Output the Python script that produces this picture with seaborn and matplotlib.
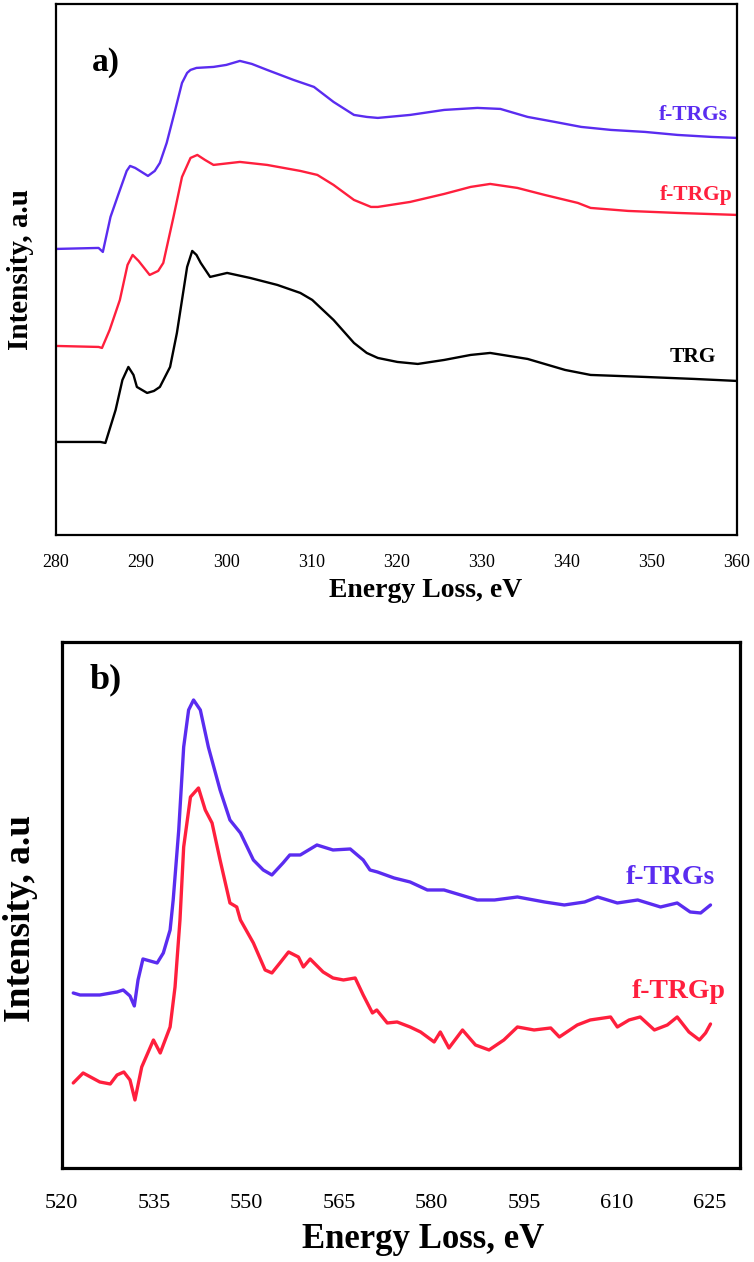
import matplotlib
matplotlib.use("Agg")
import matplotlib.pyplot as plt
import numpy as np
import pandas as pd
import seaborn as sns

# %% Data (energy loss in eV, intensity in arbitrary units)
# panel a) carbon K-edge
ev_a_s = [280, 285, 285.5, 286.4, 287.3, 287.8, 288.3, 288.7, 289.3, 290.8, 291.6, 292.2,
          293, 294, 294.8, 295.4, 295.8, 296.5, 298.5, 300, 301.6, 303, 304.8, 307.9,
          310.3, 312.6, 315, 316.5, 317.8, 321.6, 325.6, 329.5, 332.2, 335.4, 338.6,
          341.7, 345.2, 349.2, 353, 357, 360]
int_a_s = [286, 287, 283, 318, 340, 352, 364, 369, 367, 359, 364, 372,
           392, 425, 452, 462, 465, 467, 468, 470, 474, 471, 465, 455,
           448, 433, 420, 418, 417, 420, 425, 427, 426, 418, 413,
           408, 405, 403, 400, 398, 397]

ev_a_p = [280, 285, 285.4, 286.3, 287.5, 288.4, 289, 289.7, 291, 292, 292.6, 293.8,
          294.8, 295.8, 296.6, 297.5, 298.5, 301.6, 304.8, 308.7, 310.7, 312.6, 315,
          317, 317.8, 321.6, 325.6, 328.7, 331, 334.2, 337.4, 341.3, 342.8, 347.2,
          353, 360]
int_a_p = [189, 188, 187, 205, 235, 270, 280, 274, 260, 264, 272, 318,
           358, 377, 380, 375, 370, 373, 370, 364, 360, 350, 335,
           328, 328, 333, 341, 348, 351, 347, 340, 332, 327, 324,
           322, 320]

ev_a_t = [280, 285.2, 285.8, 287, 287.8, 288.5, 289.1, 289.5, 290.7, 291.5, 292.2, 293.4,
          294.2, 294.8, 295.4, 296, 296.5, 297, 298.1, 300.1, 302.8, 306, 308.7, 310.1,
          312.6, 315, 316.5, 317.8, 320.1, 322.5, 325.6, 328.7, 331, 335.4, 339.8,
          342.8, 349.2, 355, 360]
int_a_t = [93, 93, 92, 125, 155, 168, 160, 148, 142, 144, 148, 168,
           202, 235, 268, 284, 280, 272, 258, 262, 257, 250, 242, 235,
           215, 192, 182, 177, 173, 171, 175, 180, 182, 176, 165,
           160, 158, 156, 154]

# panel b) oxygen K-edge
ev_b_s = [521.9, 523, 526.2, 529, 530, 531.1, 531.8, 532.4, 533.2, 535.5, 536.5, 537.6,
          538.1, 539, 539.8, 540.6, 541.4, 542.5, 543.8, 545.7, 547.3, 549, 551.1,
          552.7, 554.1, 555.9, 557, 558.7, 561.4, 564, 566.8, 568.9, 570, 571.2,
          573.9, 576.5, 579.3, 582, 584.7, 587.4, 590.2, 593.9, 598.3, 601.5, 604.8,
          606.9, 610.1, 613.4, 617.1, 619.8, 621.9, 623.6, 625.2]
int_b_s = [175, 173, 173, 176, 178, 172, 162, 188, 209, 205, 215, 238,
           268, 338, 421, 458, 468, 458, 421, 378, 348, 335, 308,
           298, 293, 305, 313, 313, 323, 318, 319, 308, 298, 296,
           290, 286, 278, 278, 273, 268, 268, 271, 266, 263, 266,
           271, 265, 268, 261, 265, 256, 255, 263]

ev_b_p = [521.9, 523.5, 526.2, 527.9, 529, 530.1, 531.1, 531.9, 533, 534.9, 536, 537.6,
          538.4, 539.2, 539.8, 540.9, 542.2, 543.3, 544.4, 545.7, 547.3, 548.4, 549,
          551.1, 553, 554.1, 555.4, 556.8, 558.4, 559.2, 560.3, 562.4, 564, 565.7,
          567.6, 568.9, 570.4, 571.1, 572.8, 574.4, 576.5, 578.2, 580.4, 581.4, 582.8,
          585, 587.1, 589.3, 591.7, 593.9, 596.6, 599.3, 600.7, 603.6, 605.7, 609,
          610.1, 612, 613.8, 616.1, 618.2, 619.8, 621.7, 623.4, 624.4, 625.2]
int_b_p = [85, 95, 86, 84, 93, 96, 88, 68, 101, 128, 115, 141,
           181, 248, 321, 371, 380, 358, 345, 308, 265, 261, 248,
           225, 198, 195, 205, 216, 211, 201, 209, 196, 190, 188,
           190, 173, 155, 158, 145, 146, 141, 136, 126, 136, 120,
           138, 123, 118, 128, 141, 138, 140, 131, 143, 148, 151,
           141, 148, 151, 138, 143, 151, 136, 128, 135, 144]

label_a = ["f-TRGs", "f-TRGp", "TRG"]
label_b = ["f-TRGs", "f-TRGp"]
colors = {"f-TRGs": "#5a2cf0", "f-TRGp": "#ff1f3d", "TRG": "#000000"}

df_a = pd.concat([
    pd.DataFrame({"ev": ev_a_s, "val": int_a_s, "sample": "f-TRGs"}),
    pd.DataFrame({"ev": ev_a_p, "val": int_a_p, "sample": "f-TRGp"}),
    pd.DataFrame({"ev": ev_a_t, "val": int_a_t, "sample": "TRG"}),
])
df_b = pd.concat([
    pd.DataFrame({"ev": ev_b_s, "val": int_b_s, "sample": "f-TRGs"}),
    pd.DataFrame({"ev": ev_b_p, "val": int_b_p, "sample": "f-TRGp"}),
])

# %% Plot
sns.set_style("white")
plt.rcParams["font.family"] = ["Liberation Serif", "DejaVu Serif"]
plt.rcParams["text.color"] = "black"
plt.rcParams["axes.labelcolor"] = "black"
plt.rcParams["xtick.color"] = "black"

fig = plt.figure(figsize=(7.54, 12.62), dpi=100)
ax_a = fig.add_axes([0.0743, 0.5761, 0.9032, 0.4208])
ax_b = fig.add_axes([0.0816, 0.0745, 0.9000, 0.4168])

sns.lineplot(data=df_a, x="ev", y="val", hue="sample", palette=colors,
             sort=False, estimator=None, lw=1.7, legend=False, ax=ax_a)
sns.lineplot(data=df_b, x="ev", y="val", hue="sample", palette=colors,
             sort=False, estimator=None, lw=2.4, legend=False, ax=ax_b)

# panel a
ax_a.set_xlim(280, 360)
ax_a.set_ylim(0, 531)
ax_a.set_xticks(np.arange(280, 361, 10))
ax_a.set_yticks([])
ax_a.tick_params(axis="x", direction="in", length=5, width=1.6, labelsize=13, pad=14,
                 colors="black")
ax_a.set_xlabel("Energy Loss, eV", fontsize=20, fontweight="bold", color="black")
ax_a.set_ylabel("Intensity, a.u", fontsize=21, fontweight="bold", color="black")
ax_a.xaxis.set_label_coords(0.542, -0.081)
ax_a.yaxis.set_label_coords(-0.033, 0.5)
ax_a.text(285.8, 472, "a)", fontsize=24, fontweight="bold", ha="center", va="center",
          color="black")
for name, x, y in zip(label_a, [358.9, 359.5, 357.6], [420, 340, 178]):
    ax_a.text(x, y, name, color=colors[name], fontsize=15.5, fontweight="bold",
              ha="right", va="center")
for s in ax_a.spines.values():
    s.set_linewidth(1.6)
    s.set_color("black")

# panel b
ax_b.set_xlim(520, 630)
ax_b.set_ylim(0, 526)
ax_b.set_xticks(np.arange(520, 626, 15))
ax_b.set_yticks([])
ax_b.tick_params(axis="x", direction="in", length=6, width=2.3, labelsize=16, pad=19,
                 colors="black")
ax_b.set_xlabel("Energy Loss, eV", fontsize=25, fontweight="bold", color="black")
ax_b.set_ylabel("Intensity, a.u", fontsize=27, fontweight="bold", color="black")
ax_b.xaxis.set_label_coords(0.533, -0.105)
ax_b.yaxis.set_label_coords(-0.035, 0.475)
ax_b.text(527.1, 488, "b)", fontsize=26, fontweight="bold", ha="center", va="center",
          color="black")
for name, x, y in zip(label_b, [625.9, 627.6], [290, 176]):
    ax_b.text(x, y, name, color=colors[name], fontsize=20, fontweight="bold",
              ha="right", va="center")
for s in ax_b.spines.values():
    s.set_linewidth(2.3)
    s.set_color("black")

fig.savefig("out.png", dpi=100)
